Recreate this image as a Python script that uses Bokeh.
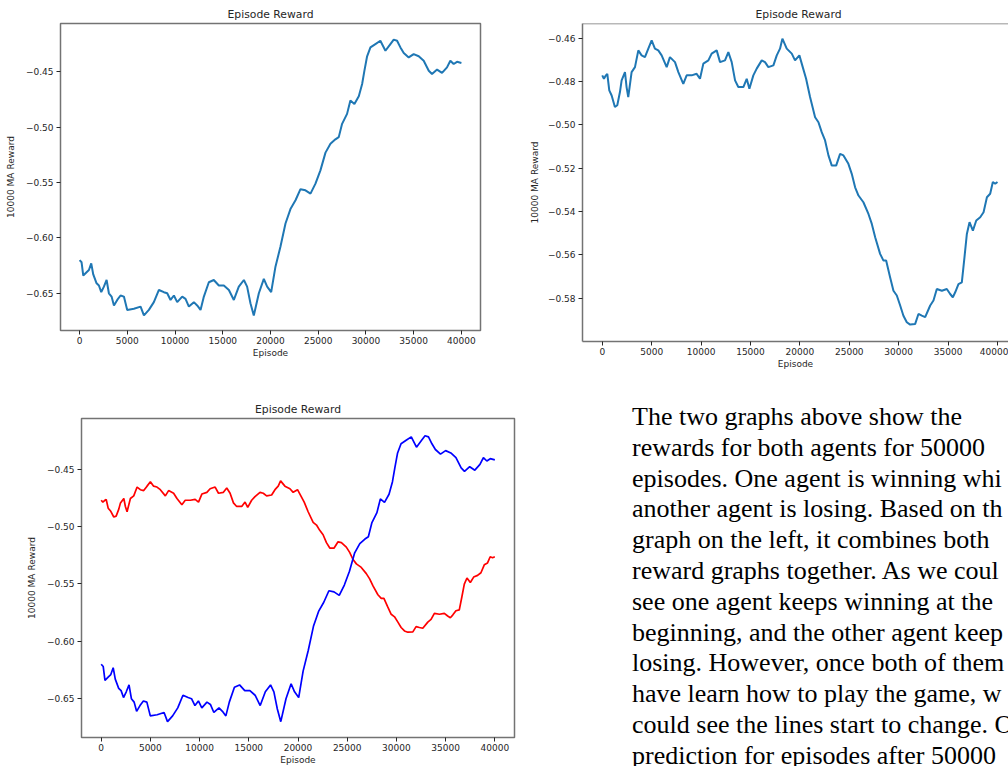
from bokeh.plotting import figure
from bokeh.layouts import row, column
from bokeh.models import Range1d, FixedTicker, CustomJSTickFormatter, Div, Span
from bokeh.embed import file_html
from bokeh.resources import INLINE

# 10000-episode moving-average reward of the first agent
ep_agent1 = [0, 209, 384, 733, 977, 1220, 1431, 1780, 2024, 2270, 2548, 2830, 3070, 3350,
             3600, 3944, 4290, 4642, 4990, 5690, 6390, 6740, 7259, 7780, 8310, 8830, 9180,
             9528, 9880, 10226, 10750, 11098, 11450, 11970, 12320, 12670, 13020, 13540,
             14060, 14590, 15112, 15640, 16160, 16680, 17210, 17550, 17900, 18250, 18780,
             19300, 19650, 20070, 20520, 21040, 21570, 22090, 22620, 23140, 23660, 24190,
             24710, 25230, 25760, 26280, 26800, 27150, 27500, 28020, 28370, 28790, 29250,
             29600, 29840, 30120, 30470, 30990, 31510, 32040, 32560, 32910, 33260, 33610,
             33960, 34480, 35000, 35530, 36050, 36580, 36920, 37450, 37970, 38490, 38840,
             39190, 39540, 40000]
reward_agent1 = [-0.620, -0.622, -0.634, -0.631, -0.629, -0.623, -0.633, -0.641, -0.643,
                 -0.649, -0.644, -0.638, -0.650, -0.653, -0.661, -0.656, -0.652, -0.653,
                 -0.665, -0.664, -0.662, -0.670, -0.665, -0.658, -0.647, -0.649, -0.650,
                 -0.656, -0.652, -0.658, -0.653, -0.655, -0.662, -0.658, -0.661, -0.665,
                 -0.653, -0.640, -0.638, -0.643, -0.643, -0.647, -0.656, -0.644, -0.638,
                 -0.644, -0.659, -0.670, -0.650, -0.637, -0.644, -0.649, -0.626, -0.608,
                 -0.587, -0.574, -0.566, -0.556, -0.557, -0.560, -0.551, -0.539, -0.523,
                 -0.515, -0.511, -0.509, -0.497, -0.488, -0.476, -0.479, -0.472, -0.461,
                 -0.449, -0.436, -0.428, -0.425, -0.422, -0.431, -0.425, -0.421, -0.422,
                 -0.428, -0.433, -0.437, -0.434, -0.436, -0.440, -0.449, -0.452, -0.448,
                 -0.451, -0.446, -0.440, -0.443, -0.441, -0.442]

# 10000-episode moving-average reward of the second agent
ep_agent2 = [0, 170, 370, 510, 710, 950, 1280, 1520, 1790, 1960, 2300, 2460, 2630, 2970,
             3310, 3650, 3980, 4320, 4660, 5000, 5330, 5670, 6010, 6520, 6850, 7360, 7700,
             8200, 8540, 9050, 9550, 9890, 10230, 10740, 11070, 11580, 11920, 12420, 12760,
             13100, 13440, 13770, 14280, 14620, 14890, 15290, 15630, 16140, 16470, 16810,
             17320, 17660, 17990, 18230, 18670, 19180, 19510, 19950, 20290, 20630, 21030,
             21540, 21880, 22210, 22550, 22890, 23230, 23670, 24070, 24410, 24910, 25250,
             25590, 25930, 26430, 26940, 27280, 27620, 28120, 28460, 28730, 29130, 29470,
             29810, 30150, 30480, 30820, 31160, 31670, 32000, 32340, 32680, 33190, 33520,
             33860, 34370, 34870, 35210, 35480, 35720, 36050, 36390, 36660, 36900, 37170,
             37510, 37850, 38250, 38590, 38930, 39260, 39530, 39770, 40000]
reward_agent2 = [-0.4772, -0.4788, -0.4772, -0.4765, -0.4841, -0.4865, -0.4918, -0.4910,
                 -0.4849, -0.4795, -0.4757, -0.4826, -0.4872, -0.4757, -0.4734, -0.4657,
                 -0.4680, -0.4688, -0.4649, -0.4611, -0.4649, -0.4657, -0.4680, -0.4734,
                 -0.4688, -0.4711, -0.4757, -0.4811, -0.4772, -0.4772, -0.4765, -0.4788,
                 -0.4718, -0.4703, -0.4672, -0.4657, -0.4711, -0.4703, -0.4665, -0.4711,
                 -0.4795, -0.4826, -0.4826, -0.4788, -0.4834, -0.4772, -0.4741, -0.4703,
                 -0.4711, -0.4734, -0.4726, -0.4680, -0.4649, -0.4603, -0.4649, -0.4672,
                 -0.4703, -0.4680, -0.4734, -0.4788, -0.4872, -0.4965, -0.4988, -0.5034,
                 -0.5072, -0.5141, -0.5188, -0.5188, -0.5134, -0.5141, -0.5180, -0.5226,
                 -0.5288, -0.5326, -0.5357, -0.5411, -0.5457, -0.5518, -0.5595, -0.5626,
                 -0.5626, -0.5703, -0.5765, -0.5787, -0.5833, -0.5880, -0.5910, -0.5921,
                 -0.5918, -0.5872, -0.5880, -0.5887, -0.5833, -0.5810, -0.5757, -0.5765,
                 -0.5757, -0.5780, -0.5795, -0.5772, -0.5734, -0.5726, -0.5610, -0.5503,
                 -0.5449, -0.5488, -0.5441, -0.5426, -0.5403, -0.5334, -0.5318, -0.5264,
                 -0.5272, -0.5264]

x_ticks = [0, 5000, 10000, 15000, 20000, 25000, 30000, 35000, 40000]
y_ticks_wide = [-0.65, -0.60, -0.55, -0.50, -0.45]
y_ticks_agent2 = [-0.58, -0.56, -0.54, -0.52, -0.50, -0.48, -0.46]

chart_title = "Episode Reward"
x_label = "Episode"
y_label = "10000 MA Reward"

# the paragraph beside the combined chart, as far as the page shows it
paragraph = [
    "The two graphs above show the",
    "rewards for both agents for 50000",
    "episodes. One agent is winning whi",
    "another agent is losing. Based on th",
    "graph on the left, it combines both",
    "reward graphs together. As we coul",
    "see one agent keeps winning at the",
    "beginning, and the other agent keep",
    "losing. However, once both of them",
    "have learn how to play the game, w",
    "could see the lines start to change. O",
    "prediction for episodes after 50000",
]

FONT = "DejaVu Sans"
INK = "#262626"
SPINE = "#737373"
MPL_BLUE = "#1f77b4"


def reward_chart(frame_w, frame_h, borders, x_end, y_lo, y_hi, y_ticks, decimals=2):
    left, top, right, bottom = borders
    p = figure(frame_width=frame_w, frame_height=frame_h,
               min_border_left=left, min_border_top=top,
               min_border_right=right, min_border_bottom=bottom,
               x_range=Range1d(-2000, x_end), y_range=Range1d(y_lo, y_hi),
               output_backend="svg", toolbar_location=None, tools="")
    p.background_fill_color = "white"
    p.border_fill_color = "white"
    p.outline_line_color = SPINE
    p.outline_line_width = 1.5
    p.xgrid.visible = False
    p.ygrid.visible = False

    p.title.text = chart_title
    p.title.align = "center"
    p.title.text_font = FONT
    p.title.text_font_size = "10.8px"
    p.title.text_font_style = "normal"
    p.title.text_color = INK
    p.title.standoff = 6

    p.xaxis.ticker = FixedTicker(ticks=x_ticks)
    p.xaxis.formatter = CustomJSTickFormatter(code="return tick.toFixed(0);")
    p.yaxis.ticker = FixedTicker(ticks=y_ticks)
    p.yaxis.formatter = CustomJSTickFormatter(
        code="return (tick < 0 ? '\\u2212' : '') + Math.abs(tick).toFixed(%d);" % decimals)
    p.xaxis.axis_label = x_label
    p.yaxis.axis_label = y_label
    for ax in (p.xaxis[0], p.yaxis[0]):
        ax.axis_line_color = None
        ax.major_tick_line_color = INK
        ax.major_tick_line_width = 1
        ax.major_tick_in = 0
        ax.major_tick_out = 4
        ax.minor_tick_line_color = None
        ax.major_label_text_font = FONT
        ax.major_label_text_font_size = "9px"
        ax.major_label_text_color = INK
        ax.axis_label_text_font = FONT
        ax.axis_label_text_font_size = "9px"
        ax.axis_label_text_font_style = "normal"
        ax.axis_label_text_color = INK
    p.xaxis.major_label_standoff = 2
    p.xaxis.axis_label_standoff = 1
    p.yaxis.major_label_standoff = 3
    p.yaxis.axis_label_standoff = 7
    return p


# first agent alone
p1 = reward_chart(420, 307, (60, 23, 40, 50), 42000, -0.6836, -0.4064, y_ticks_wide)
p1.line(ep_agent1, reward_agent1, line_color=MPL_BLUE, line_width=2)

# second agent alone (frame runs off the right edge, so no right spine)
p2 = reward_chart(426, 318, (62, 23, 0, 39), 41114, -0.5999, -0.4533, y_ticks_agent2)
p2.outline_line_color = None
p2.xaxis.axis_line_color = SPINE
p2.xaxis.axis_line_width = 1.5
p2.yaxis.axis_line_color = SPINE
p2.yaxis.axis_line_width = 1.5
p2.yaxis.axis_label_standoff = 5
p2.add_layout(Span(location=-0.4533, dimension="width", line_color=SPINE, line_width=1.5))
p2.title.align = "left"
p2.title.offset = 173
p2.line(ep_agent2, reward_agent2, line_color=MPL_BLUE, line_width=2)

# both agents together
p3 = reward_chart(433, 319, (81, 38, 6, 29), 42000, -0.6838, -0.4060, y_ticks_wide)
p3.line(ep_agent2, reward_agent2, line_color="#ff0000", line_width=1.7)
p3.line(ep_agent1, reward_agent1, line_color="#0000ff", line_width=1.7)

html_lines = "<br>".join(paragraph)
note = Div(
    text=(
        '<div style="box-sizing:border-box;font-family:\'Liberation Serif\',\'Times New Roman\',serif;'
        'font-size:26px;line-height:30.8px;color:#000;white-space:nowrap;'
        'overflow:hidden;width:488px;height:386px;padding:22px 0 0 112px;margin:0;">'
        + html_lines + "</div>"
    ),
    width=488, height=386, margin=(0, 0, 0, 0),
)

layout = column(row(p1, p2), row(p3, note))

with open("out.html", "w", encoding="utf-8") as f:
    f.write(file_html(layout, INLINE))
